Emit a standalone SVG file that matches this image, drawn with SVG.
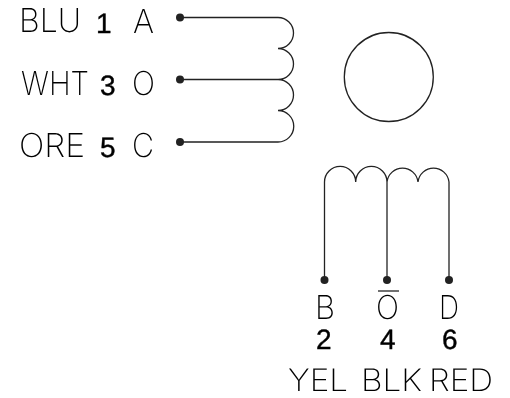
<svg xmlns="http://www.w3.org/2000/svg" width="510" height="398" viewBox="0 0 510 398">
<style>
.w{fill:none;stroke:#222;stroke-width:1.3}
.d{fill:#222}
text{text-rendering:geometricPrecision}
.t{font-family:Inter,"Liberation Sans",sans-serif;font-weight:200;font-size:33px;fill:#000}
.b{font-size:31px}
.n{font-family:"Liberation Sans",Arial,sans-serif;font-size:28px;fill:#000;stroke:#000;stroke-width:.4}
.g{filter:grayscale(1)}
</style>
<rect width="510" height="398" fill="#fff"/>
<g id="connectors">
<path class="w" d="M180 17.5H278A15.5 15.5 0 0 1 278 48.5A15.5 15.5 0 0 1 278 79.5A15.5 15.5 0 0 1 278 110.5A15.5 15.5 0 0 1 278 142H180"/>
<path class="w" d="M180 79.5H278"/>
<path class="w" d="M324.5 280V182A15.6 15.6 0 0 1 355.7 182A15.6 15.6 0 0 1 387 182A15.6 15.6 0 0 1 418 182A15.6 15.6 0 0 1 449 182V280"/>
<path class="w" d="M387 182V280"/>
<path class="w" d="M378 291H399"/>
</g>
<g id="rotor"><circle class="w" cx="388.8" cy="77" r="44.5"/></g>
<g id="pin-a" class="g"><circle class="d" cx="180" cy="17.5" r="4"/><text class="t" x="19" y="32" textLength="62" lengthAdjust="spacingAndGlyphs">BLU</text><text class="n" x="96" y="32.5">1</text><text class="t" x="133" y="33" textLength="21" lengthAdjust="spacingAndGlyphs">A</text></g>
<g id="pin-o" class="g"><circle class="d" cx="180" cy="79.5" r="4"/><text class="t" x="21" y="95" textLength="68" lengthAdjust="spacingAndGlyphs">WHT</text><text class="n" x="100" y="94.5">3</text><text class="t" x="132" y="95" textLength="23" lengthAdjust="spacingAndGlyphs">O</text></g>
<g id="pin-c" class="g"><circle class="d" cx="180" cy="142" r="4"/><text class="t" x="19" y="156.5" textLength="66" lengthAdjust="spacingAndGlyphs">ORE</text><text class="n" x="100" y="156.5">5</text><text class="t" x="132" y="156.5" textLength="22" lengthAdjust="spacingAndGlyphs">C</text></g>
<g id="pin-b" class="g"><circle class="d" cx="324.5" cy="280" r="4"/><text class="t" x="315" y="318.5" textLength="20" lengthAdjust="spacingAndGlyphs">B</text><text class="n" x="316" y="349">2</text><text class="t b" x="288" y="390.5" textLength="60" lengthAdjust="spacingAndGlyphs">YEL</text></g>
<g id="pin-obar" class="g"><circle class="d" cx="387" cy="280" r="4"/><text class="t" x="376" y="318.5" textLength="23" lengthAdjust="spacingAndGlyphs">O</text><text class="n" x="380" y="349">4</text><text class="t b" x="361" y="390.5" textLength="61" lengthAdjust="spacingAndGlyphs">BLK</text></g>
<g id="pin-d" class="g"><circle class="d" cx="449" cy="280" r="4"/><text class="t" x="439" y="318.5" textLength="20" lengthAdjust="spacingAndGlyphs">D</text><text class="n" x="442" y="349">6</text><text class="t b" x="429" y="390.5" textLength="64" lengthAdjust="spacingAndGlyphs">RED</text></g>
</svg>
